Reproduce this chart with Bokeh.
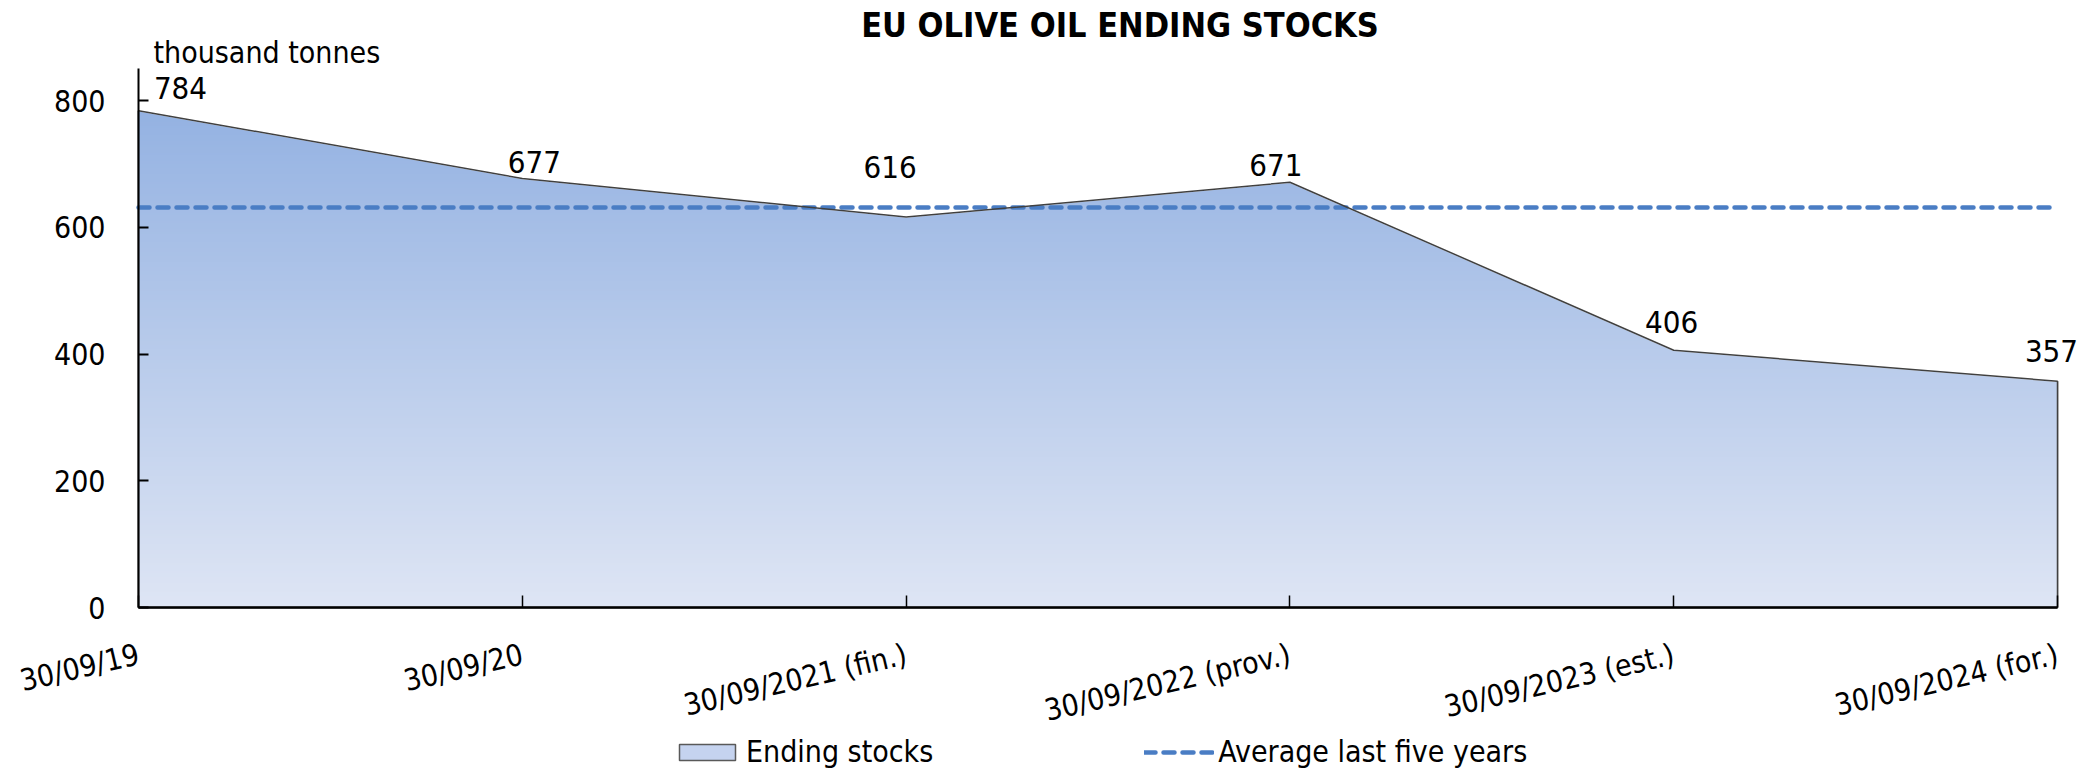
import numpy as np
from bokeh.plotting import figure
from bokeh.models import (ColumnDataSource, LabelSet, Label, Legend, LegendItem,
                          Range1d, FixedTicker)
from bokeh.core.properties import value
from bokeh.embed import file_html
from bokeh.resources import INLINE

# ---------------- data ----------------
dates = ["30/09/19", "30/09/20", "30/09/2021 (fin.)", "30/09/2022 (prov.)",
         "30/09/2023 (est.)", "30/09/2024 (for.)"]
stocks = [784, 677, 616, 671, 406, 357]
average_five_years = 631
y_ticks = [0, 200, 400, 600, 800]
y_axis_top = 850

# label placement (screen px, styling only)
label_dx = [42, 12, -16, -14, -2, -6]
label_dy = [12, 5, 39, 6, 17, 19]

# ---------------- layout (pixels) ----------------
W, H = 2100, 772
LEFT_PX, RIGHT_PX = 138, 2057      # x of first / last category
ZERO_PX, Y800_PX = 607, 100        # y of value 0 / 800
FONT = "DejaVu Sans Condensed"

x = list(range(len(dates)))
sx = (RIGHT_PX - LEFT_PX) / (x[-1] - x[0])
sy = (ZERO_PX - Y800_PX) / 800.0

p = figure(width=W, height=H, output_backend="svg", toolbar_location=None,
           x_range=Range1d(x[0] - LEFT_PX / sx, x[-1] + (W - RIGHT_PX) / sx),
           y_range=Range1d(-(H - ZERO_PX) / sy, ZERO_PX / sy),
           min_border=0, min_border_left=0, min_border_right=0,
           min_border_top=0, min_border_bottom=0)
p.title.visible = False
p.outline_line_color = None
p.xgrid.visible = False
p.ygrid.visible = False
p.background_fill_color = "white"
p.border_fill_color = "white"

# base area (also used as legend swatch); gradient image is drawn over it
area_r = p.patch(x + [x[-1], x[0]], stocks + [0, 0], fill_color="#c5d3ef",
                 line_color="#595959", line_width=1.5, level="image")

# gradient fill (styling): light at bottom, darker at top
n = 256
top_c = np.array([0x94, 0xb2, 0xe2], dtype=float)
bot_c = np.array([0xde, 0xe5, 0xf4], dtype=float)
t = np.linspace(0, 1, n)[:, None]
rgb = np.round(bot_c * (1 - t) + top_c * t).astype(np.uint8)
img = np.empty((n, 1), dtype=np.uint32)
view = img.view(dtype=np.uint8).reshape((n, 1, 4))
view[:, 0, 0] = rgb[:, 0]
view[:, 0, 1] = rgb[:, 1]
view[:, 0, 2] = rgb[:, 2]
view[:, 0, 3] = 255
p.image_rgba(image=[img], x=x[0], y=0, dw=x[-1] - x[0], dh=max(stocks),
             level="image")

# white mask above the stock line
p.patch(x + [x[-1], x[0]], stocks + [y_axis_top, y_axis_top],
        fill_color="white", line_color="white", line_width=1.5)

# average line
avg_r = p.line([x[0], x[-1]], [average_five_years, average_five_years],
               line_color="#4a7dc4", line_width=4.5, line_dash="11 8",
               line_cap="round")

# outline of area
p.patch(x + [x[-1], x[0]], stocks + [0, 0], fill_color=None,
        line_color="#404040", line_width=1.5)

# data labels
src = ColumnDataSource(dict(x=x, y=stocks, text=[str(v) for v in stocks],
                            dx=label_dx, dy=label_dy))
p.add_layout(LabelSet(x="x", y="y", text="text", x_offset="dx", y_offset="dy",
                      source=src, text_align="center",
                      text_baseline="alphabetic", text_font=value(FONT),
                      text_font_size="31px", text_color="black"))

# unit label
p.add_layout(Label(x=x[0], y=y_axis_top, text="thousand tonnes", x_offset=15,
                   y_offset=16, text_baseline="alphabetic", text_font=FONT,
                   text_font_size="30px", text_color="black"))

# title
p.add_layout(Label(x=(x[0] + x[-1]) / 2, y=y_axis_top,
                   text="EU OLIVE OIL ENDING STOCKS",
                   x_offset=22, y_offset=44, text_align="center",
                   text_baseline="alphabetic", text_font=FONT,
                   text_font_style="bold", text_font_size="34px",
                   text_color="black"))

# axes
p.xaxis.fixed_location = 0
p.xaxis.bounds = (x[0], x[-1])
p.xaxis.ticker = FixedTicker(ticks=x)
p.xaxis.major_label_overrides = {i: d for i, d in zip(x, dates)}
p.xaxis.major_label_orientation = 0.23
p.xaxis.axis_line_width = 2.5
p.xaxis.axis_line_color = "black"
p.xaxis.major_tick_in = 12
p.xaxis.major_tick_out = 0
p.xaxis.major_tick_line_width = 1.5
p.xaxis.major_tick_line_color = "black"
p.xaxis.minor_tick_line_color = None
p.xaxis.major_label_text_font = FONT
p.xaxis.major_label_text_font_size = "30px"
p.xaxis.major_label_text_color = "black"
p.xaxis.major_label_standoff = 46

p.yaxis.fixed_location = 0
p.yaxis.bounds = (0, y_axis_top)
p.yaxis.ticker = FixedTicker(ticks=y_ticks)
p.yaxis.axis_line_width = 2
p.yaxis.axis_line_color = "black"
p.yaxis.major_tick_in = 10
p.yaxis.major_tick_out = 0
p.yaxis.major_tick_line_width = 2
p.yaxis.major_tick_line_color = "black"
p.yaxis.minor_tick_line_color = None
p.yaxis.major_label_text_font = FONT
p.yaxis.major_label_text_font_size = "30px"
p.yaxis.major_label_text_color = "black"
p.yaxis.major_label_standoff = 33

legend = Legend(items=[LegendItem(label="Ending stocks", renderers=[area_r]),
                       LegendItem(label="Average last five years", renderers=[avg_r])],
                orientation="horizontal", location=(672, 3),
                glyph_width=70, glyph_height=20, label_standoff=4, spacing=211,
                padding=0, margin=0, border_line_color=None,
                background_fill_alpha=0, label_text_font=FONT,
                label_text_font_size="30px", label_text_color="black")
p.add_layout(legend)

open("out.html", "w").write(file_html(p, INLINE))
